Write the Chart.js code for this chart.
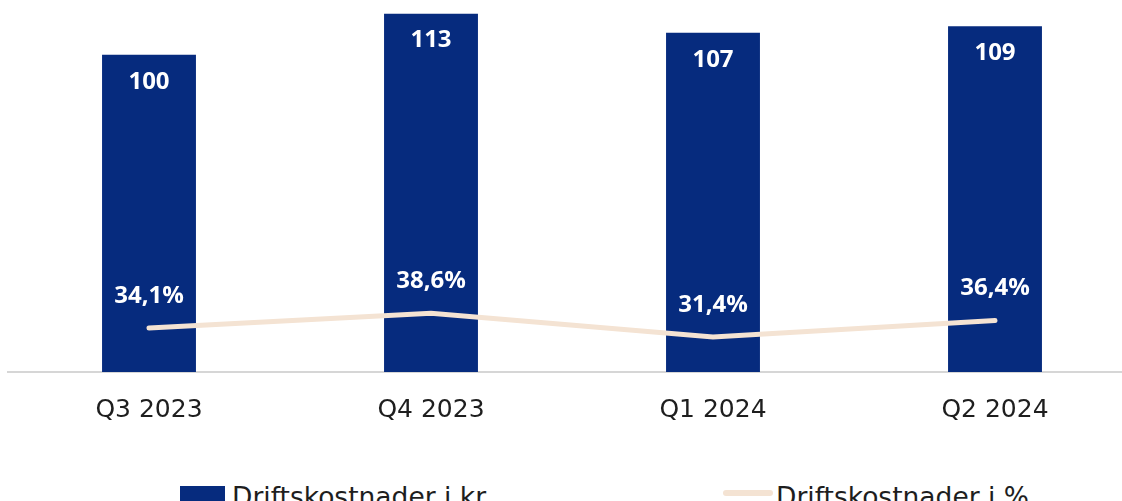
<!DOCTYPE html>
<html>
<head>
<meta charset="utf-8">
<script src="https://cdn.jsdelivr.net/npm/chart.js@4"></script>
<style>
  html, body { margin:0; padding:0; background:#fff; overflow:hidden; }
  #wrap { position:relative; width:1122px; height:501px; overflow:hidden; background:#fff; }
  #c { position:absolute; left:0; top:0; }
  .lg-item { position:absolute; display:flex; align-items:flex-start; font-family:"DejaVu Sans", sans-serif; font-size:26.5px; color:#1e1e1e; white-space:nowrap; line-height:30px; }
  .lg-box { position:absolute; }
</style>
</head>
<body>
<div id="wrap">
  <canvas id="c" width="1136" height="440"></canvas>
  <div id="legend"></div>
</div>
<script>
const categories = ['Q3 2023', 'Q4 2023', 'Q1 2024', 'Q2 2024'];
const costsKr = [100, 113, 107, 109];
const costsPct = [34.1, 38.6, 31.4, 36.4];
const seriesNames = ['Driftskostnader i kr', 'Driftskostnader i %'];

const BLUE = '#062b7e';
const BEIGE = '#f4e3d3';

const fmtPct = v => v.toFixed(1).replace('.', ',') + '%';

const labelPlugin = {
  id: 'valueLabels',
  afterDatasetsDraw(chart) {
    const ctx = chart.ctx;
    ctx.save();
    ctx.fillStyle = '#ffffff';
    ctx.textAlign = 'center';
    ctx.textBaseline = 'middle';
    ctx.font = 'bold 24px "Open Sans", sans-serif';
    chart.getDatasetMeta(0).data.forEach((el, i) => {
      ctx.fillText(String(costsKr[i]), el.x, el.y + 27);
    });
    chart.getDatasetMeta(1).data.forEach((el, i) => {
      ctx.fillText(fmtPct(costsPct[i]), el.x, el.y - 32);
    });
    ctx.restore();
  }
};

const chart = new Chart(document.getElementById('c'), {
  data: {
    labels: categories,
    datasets: [
      {
        type: 'bar',
        label: seriesNames[0],
        data: costsKr,
        backgroundColor: BLUE,
        categoryPercentage: 1,
        barPercentage: 0.333,
        yAxisID: 'y',
        order: 2
      },
      {
        type: 'line',
        label: seriesNames[1],
        data: costsPct,
        borderColor: BEIGE,
        borderWidth: 5,
        borderCapStyle: 'round',
        pointRadius: 0,
        tension: 0,
        yAxisID: 'y2',
        order: 1
      }
    ]
  },
  options: {
    responsive: false,
    animation: false,
    devicePixelRatio: 1,
    layout: { padding: { left: 8, right: 0, top: 0, bottom: 0 } },
    plugins: { legend: { display: false }, tooltip: { enabled: false } },
    scales: {
      x: {
        offset: true,
        grid: { display: false },
        border: { display: true, color: '#d6d6d6', width: 2 },
        ticks: { color: '#1e1e1e', font: { family: '"DejaVu Sans", sans-serif', size: 25 }, padding: 15 }
      },
      y: { display: false, min: 0, max: 117.3 },
      y2: { display: false, min: 20.8, max: 133.5 }
    }
  },
  plugins: [labelPlugin]
});

// HTML legend built from the chart datasets
const legend = document.getElementById('legend');
const items = [
  { left: 180, textLeft: 232, kind: 'box' },
  { left: 723, textLeft: 776, kind: 'line' }
];
chart.data.datasets.forEach((ds, i) => {
  const it = items[i];
  const sw = document.createElement('div');
  sw.className = 'lg-box';
  if (it.kind === 'box') {
    Object.assign(sw.style, { left: it.left + 'px', top: '486px', width: '45px', height: '20px', background: ds.backgroundColor });
  } else {
    Object.assign(sw.style, { left: it.left + 'px', top: '490px', width: '50px', height: '6px', borderRadius: '3px', background: ds.borderColor });
  }
  legend.appendChild(sw);
  const tx = document.createElement('div');
  tx.className = 'lg-item';
  tx.style.left = it.textLeft + 'px';
  tx.style.top = '482px';
  tx.textContent = ds.label;
  legend.appendChild(tx);
});
</script>
</body>
</html>
